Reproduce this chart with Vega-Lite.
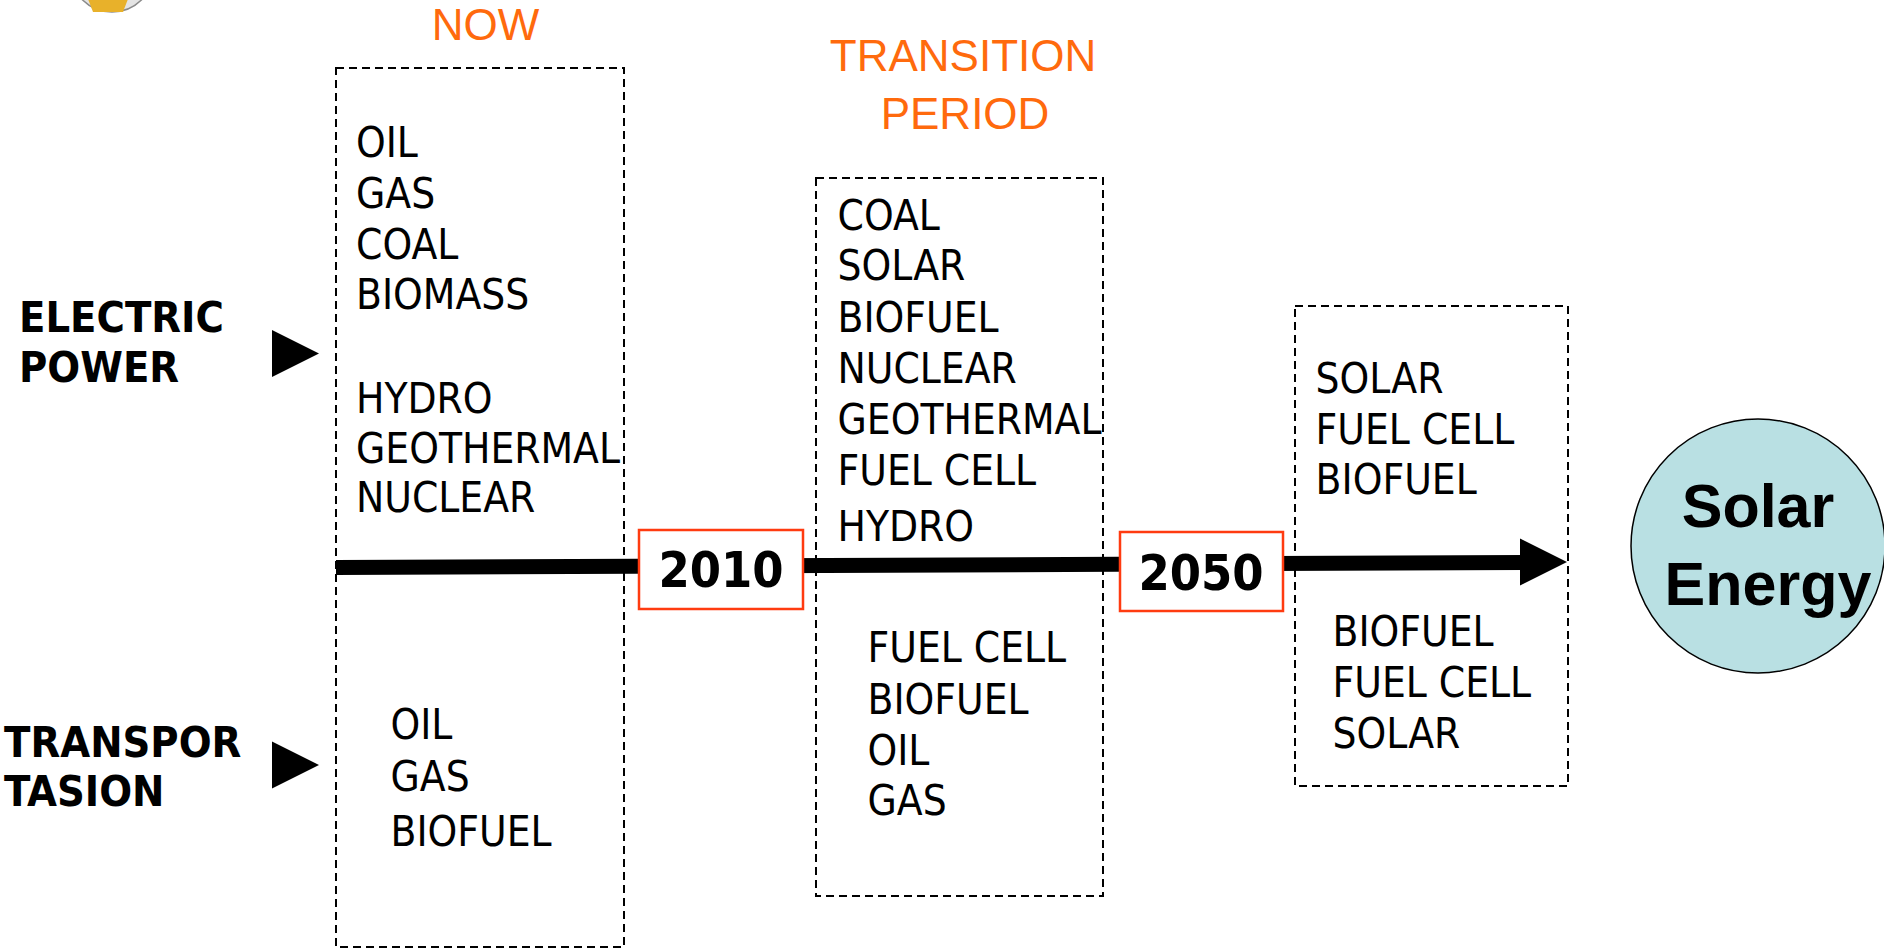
{
  "$schema": "https://vega.github.io/schema/vega-lite/v6.json",
  "width": 1884,
  "height": 949,
  "autosize": {"type": "none"},
  "padding": 0,
  "background": "white",
  "config": {"view": {"stroke": null}},
  "datasets": {
    "frames": [
      {"name": "now", "x": 336, "x2": 624, "y": 68, "y2": 947},
      {"name": "transition", "x": 816, "x2": 1103, "y": 178, "y2": 896},
      {"name": "future", "x": 1295, "x2": 1568, "y": 306, "y2": 786}
    ],
    "years": [
      {"label": "2010", "x": 639, "x2": 803, "y": 530, "y2": 609, "tx": 721, "ty": 587},
      {"label": "2050", "x": 1120, "x2": 1283, "y": 532, "y2": 611, "tx": 1201, "ty": 590}
    ],
    "timeline": [
      {"x": 336, "y": 567.5, "x2": 1524, "y2": 562.5}
    ],
    "arrows": [
      {"name": "electric", "x": 295.5, "y": 353.5},
      {"name": "transport", "x": 295.5, "y": 765},
      {"name": "timeline", "x": 1543.5, "y": 562}
    ],
    "items": [
      {"label": "OIL", "x": 356, "y": 156.5},
      {"label": "GAS", "x": 356, "y": 208},
      {"label": "COAL", "x": 356, "y": 259},
      {"label": "BIOMASS", "x": 356, "y": 309},
      {"label": "HYDRO", "x": 356, "y": 412.5},
      {"label": "GEOTHERMAL", "x": 356, "y": 463},
      {"label": "NUCLEAR", "x": 356, "y": 512},
      {"label": "OIL", "x": 390.5, "y": 739},
      {"label": "GAS", "x": 390.5, "y": 791},
      {"label": "BIOFUEL", "x": 390.5, "y": 846},
      {"label": "COAL", "x": 837.5, "y": 230},
      {"label": "SOLAR", "x": 837.5, "y": 280},
      {"label": "BIOFUEL", "x": 837.5, "y": 332},
      {"label": "NUCLEAR", "x": 837.5, "y": 382.5},
      {"label": "GEOTHERMAL", "x": 837.5, "y": 434},
      {"label": "FUEL CELL", "x": 837.5, "y": 484.5},
      {"label": "HYDRO", "x": 837.5, "y": 541},
      {"label": "FUEL CELL", "x": 867.5, "y": 662},
      {"label": "BIOFUEL", "x": 867.5, "y": 714},
      {"label": "OIL", "x": 867.5, "y": 764.5},
      {"label": "GAS", "x": 867.5, "y": 815},
      {"label": "SOLAR", "x": 1315.6, "y": 393},
      {"label": "FUEL CELL", "x": 1315.6, "y": 444},
      {"label": "BIOFUEL", "x": 1315.6, "y": 494},
      {"label": "BIOFUEL", "x": 1332.5, "y": 645.6},
      {"label": "FUEL CELL", "x": 1332.5, "y": 697},
      {"label": "SOLAR", "x": 1332.5, "y": 748}
    ],
    "sectors": [
      {"label": "ELECTRIC", "x": 19, "y": 332},
      {"label": "POWER", "x": 19, "y": 382},
      {"label": "TRANSPOR", "x": 4, "y": 757},
      {"label": "TASION", "x": 4, "y": 806}
    ],
    "titles": [
      {"label": "NOW", "x": 485.5, "y": 40},
      {"label": "TRANSITION", "x": 963, "y": 71},
      {"label": "PERIOD", "x": 965, "y": 128.5}
    ],
    "goal": [
      {"label": "Solar Energy", "x": 1758, "y": 546}
    ],
    "goalText": [
      {"label": "Solar", "x": 1758, "y": 527},
      {"label": "Energy", "x": 1768, "y": 605}
    ],
    "logo": [
      {"part": "seal", "x": 112, "y": -30}
    ],
    "logoBand": [
      {"part": "band", "x": 108, "y": 6}
    ]
  },
  "layer": [
    {
      "data": {"name": "logo"},
      "mark": {"type": "point", "shape": "circle", "filled": true, "size": 7056, "fill": "#e4e4e4", "stroke": "#8a8a8a", "strokeWidth": 1.5, "opacity": 1},
      "encoding": {
        "x": {"field": "x", "type": "quantitative", "scale": {"domain": [0, 1884], "nice": false, "zero": false}, "axis": null},
        "y": {"field": "y", "type": "quantitative", "scale": {"domain": [0, 949], "reverse": true, "nice": false, "zero": false}, "axis": null}
      }
    },
    {
      "data": {"name": "logoBand"},
      "mark": {"type": "point", "shape": "M-1,-0.35L1,-0.35L0.75,0.3L-0.75,0.3Z", "filled": true, "size": 1600, "color": "#E8B12A", "opacity": 1},
      "encoding": {
        "x": {"field": "x", "type": "quantitative", "scale": {"domain": [0, 1884], "nice": false, "zero": false}, "axis": null},
        "y": {"field": "y", "type": "quantitative", "scale": {"domain": [0, 949], "reverse": true, "nice": false, "zero": false}, "axis": null}
      }
    },
    {
      "data": {"name": "frames"},
      "mark": {"type": "rect", "fill": null, "fillOpacity": 0, "stroke": "black", "strokeWidth": 2, "strokeDash": [8, 5]},
      "encoding": {
        "x": {"field": "x", "type": "quantitative", "scale": {"domain": [0, 1884], "nice": false, "zero": false}, "axis": null},
        "x2": {"field": "x2"},
        "y": {"field": "y", "type": "quantitative", "scale": {"domain": [0, 949], "reverse": true, "nice": false, "zero": false}, "axis": null},
        "y2": {"field": "y2"}
      }
    },
    {
      "data": {"name": "timeline"},
      "mark": {"type": "rule", "color": "black", "strokeWidth": 15, "strokeCap": "butt"},
      "encoding": {
        "x": {"field": "x", "type": "quantitative", "scale": {"domain": [0, 1884], "nice": false, "zero": false}, "axis": null},
        "x2": {"field": "x2"},
        "y": {"field": "y", "type": "quantitative", "scale": {"domain": [0, 949], "reverse": true, "nice": false, "zero": false}, "axis": null},
        "y2": {"field": "y2"}
      }
    },
    {
      "data": {"name": "arrows"},
      "mark": {"type": "point", "shape": "M-1,-1L1,0L-1,1Z", "filled": true, "size": 2209, "color": "black", "opacity": 1},
      "encoding": {
        "x": {"field": "x", "type": "quantitative", "scale": {"domain": [0, 1884], "nice": false, "zero": false}, "axis": null},
        "y": {"field": "y", "type": "quantitative", "scale": {"domain": [0, 949], "reverse": true, "nice": false, "zero": false}, "axis": null}
      }
    },
    {
      "data": {"name": "years"},
      "mark": {"type": "rect", "fill": "white", "stroke": "#FF3B10", "strokeWidth": 2.5},
      "encoding": {
        "x": {"field": "x", "type": "quantitative", "scale": {"domain": [0, 1884], "nice": false, "zero": false}, "axis": null},
        "x2": {"field": "x2"},
        "y": {"field": "y", "type": "quantitative", "scale": {"domain": [0, 949], "reverse": true, "nice": false, "zero": false}, "axis": null},
        "y2": {"field": "y2"}
      }
    },
    {
      "data": {"name": "years"},
      "mark": {"type": "text", "font": "DejaVu Sans Condensed, Liberation Sans, sans-serif", "fontWeight": "bold", "fontSize": 50, "align": "center", "baseline": "alphabetic", "color": "black"},
      "encoding": {
        "x": {"field": "tx", "type": "quantitative", "scale": {"domain": [0, 1884], "nice": false, "zero": false}, "axis": null},
        "y": {"field": "ty", "type": "quantitative", "scale": {"domain": [0, 949], "reverse": true, "nice": false, "zero": false}, "axis": null},
        "text": {"field": "label"}
      }
    },
    {
      "data": {"name": "items"},
      "mark": {"type": "text", "font": "DejaVu Sans Condensed, Roboto, sans-serif", "fontSize": 42, "align": "left", "baseline": "alphabetic", "color": "black"},
      "encoding": {
        "x": {"field": "x", "type": "quantitative", "scale": {"domain": [0, 1884], "nice": false, "zero": false}, "axis": null},
        "y": {"field": "y", "type": "quantitative", "scale": {"domain": [0, 949], "reverse": true, "nice": false, "zero": false}, "axis": null},
        "text": {"field": "label"}
      }
    },
    {
      "data": {"name": "sectors"},
      "mark": {"type": "text", "font": "DejaVu Sans Condensed, Liberation Sans, sans-serif", "fontWeight": "bold", "fontSize": 43, "align": "left", "baseline": "alphabetic", "color": "black"},
      "encoding": {
        "x": {"field": "x", "type": "quantitative", "scale": {"domain": [0, 1884], "nice": false, "zero": false}, "axis": null},
        "y": {"field": "y", "type": "quantitative", "scale": {"domain": [0, 949], "reverse": true, "nice": false, "zero": false}, "axis": null},
        "text": {"field": "label"}
      }
    },
    {
      "data": {"name": "titles"},
      "mark": {"type": "text", "font": "Liberation Sans", "fontSize": 44, "align": "center", "baseline": "alphabetic", "color": "#FF6A0D"},
      "encoding": {
        "x": {"field": "x", "type": "quantitative", "scale": {"domain": [0, 1884], "nice": false, "zero": false}, "axis": null},
        "y": {"field": "y", "type": "quantitative", "scale": {"domain": [0, 949], "reverse": true, "nice": false, "zero": false}, "axis": null},
        "text": {"field": "label"}
      }
    },
    {
      "data": {"name": "goal"},
      "mark": {"type": "point", "shape": "circle", "filled": true, "size": 64516, "fill": "#B9E0E3", "stroke": "black", "strokeWidth": 1.5, "opacity": 1},
      "encoding": {
        "x": {"field": "x", "type": "quantitative", "scale": {"domain": [0, 1884], "nice": false, "zero": false}, "axis": null},
        "y": {"field": "y", "type": "quantitative", "scale": {"domain": [0, 949], "reverse": true, "nice": false, "zero": false}, "axis": null}
      }
    },
    {
      "data": {"name": "goalText"},
      "mark": {"type": "text", "font": "Liberation Sans", "fontWeight": "bold", "fontSize": 61, "align": "center", "baseline": "alphabetic", "color": "black"},
      "encoding": {
        "x": {"field": "x", "type": "quantitative", "scale": {"domain": [0, 1884], "nice": false, "zero": false}, "axis": null},
        "y": {"field": "y", "type": "quantitative", "scale": {"domain": [0, 949], "reverse": true, "nice": false, "zero": false}, "axis": null},
        "text": {"field": "label"}
      }
    }
  ]
}
